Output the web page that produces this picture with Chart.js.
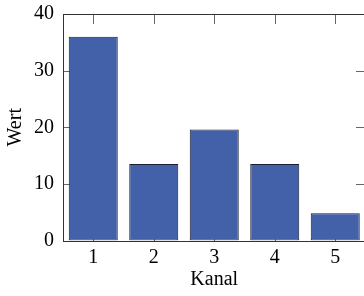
<!DOCTYPE html>
<html>
<head>
<meta charset="utf-8">
<script src="https://cdn.jsdelivr.net/npm/chart.js@4"></script>
<style>
  html, body { margin: 0; padding: 0; background: #fff; overflow: hidden; }
  #wrap { width: 368px; height: 296px; }
</style>
</head>
<body>
<div id="wrap"><canvas id="chart"></canvas></div>
<script>
const channels = ['1', '2', '3', '4', '5'];
const values = [36, 13.5, 19.6, 13.5, 4.8];
const yTicks = [0, 10, 20, 30, 40];

const serif = "'Liberation Serif', 'DejaVu Serif', serif";
const TICK_LEN = 10;

// inward ticks: left/bottom ones sit under the bars, top/right ones and the frame on top
const tickMarks = {
    id: 'tickMarks',
    beforeDatasetsDraw(chart) {
        const { ctx, chartArea: a, scales: { x, y } } = chart;
        ctx.save();
        ctx.fillStyle = '#666';
        for (const v of yTicks) {
            ctx.fillRect(Math.round(a.left), Math.round(y.getPixelForValue(v)), TICK_LEN, 1);
        }
        for (let i = 0; i < channels.length; i++) {
            ctx.fillRect(Math.round(x.getPixelForValue(i)), Math.round(a.bottom) - TICK_LEN, 1, TICK_LEN);
        }
        ctx.restore();
    },
    afterDraw(chart) {
        const { ctx, chartArea: a, scales: { x, y } } = chart;
        ctx.save();
        ctx.fillStyle = '#666';
        for (const v of yTicks) {
            ctx.fillRect(Math.round(a.right) - TICK_LEN, Math.round(y.getPixelForValue(v)), TICK_LEN, 1);
        }
        for (let i = 0; i < channels.length; i++) {
            ctx.fillRect(Math.round(x.getPixelForValue(i)), Math.round(a.top), 1, TICK_LEN);
        }
        ctx.strokeStyle = '#333';
        ctx.lineWidth = 1;
        const l = Math.round(a.left) + 0.5, t = Math.round(a.top) + 0.5;
        const r = Math.round(a.right) + 0.5, b = Math.round(a.bottom) + 0.5;
        ctx.strokeRect(l, t, r - l, b - t);
        ctx.restore();
    }
};

new Chart(document.getElementById('chart'), {
    type: 'bar',
    data: {
        labels: channels,
        datasets: [{
            data: values,
            backgroundColor: '#4361a8',
            borderColor: '#1c1c2c',
            borderWidth: 1,
            borderSkipped: false,
            barPercentage: 0.81,
            categoryPercentage: 1
        }]
    },
    options: {
        responsive: true,
        maintainAspectRatio: false,
        animation: false,
        layout: { padding: { top: 14, right: 2.5, left: 0, bottom: 0 } },
        plugins: {
            legend: { display: false },
            tooltip: { enabled: false }
        },
        scales: {
            x: {
                grid: { display: false, drawTicks: false },
                border: { display: false },
                ticks: { color: '#000', font: { family: serif, size: 20 }, padding: 5 },
                title: { display: true, text: 'Kanal', color: '#000', font: { family: serif, size: 20 }, padding: { top: 0 } },
                afterFit: s => { s.height = 55.5; s.paddingLeft = 0; s.paddingRight = 0; }
            },
            y: {
                min: 0,
                max: 40,
                grid: { display: false, drawTicks: false },
                border: { display: false },
                ticks: { stepSize: 10, color: '#000', font: { family: serif, size: 20 }, padding: 9 },
                title: { display: true, text: 'Wert', color: '#000', font: { family: serif, size: 20 }, padding: { bottom: 0 } },
                afterFit: s => { s.width = 63; s.paddingTop = 0; s.paddingBottom = 0; }
            }
        }
    },
    plugins: [tickMarks]
});
</script>
</body>
</html>
